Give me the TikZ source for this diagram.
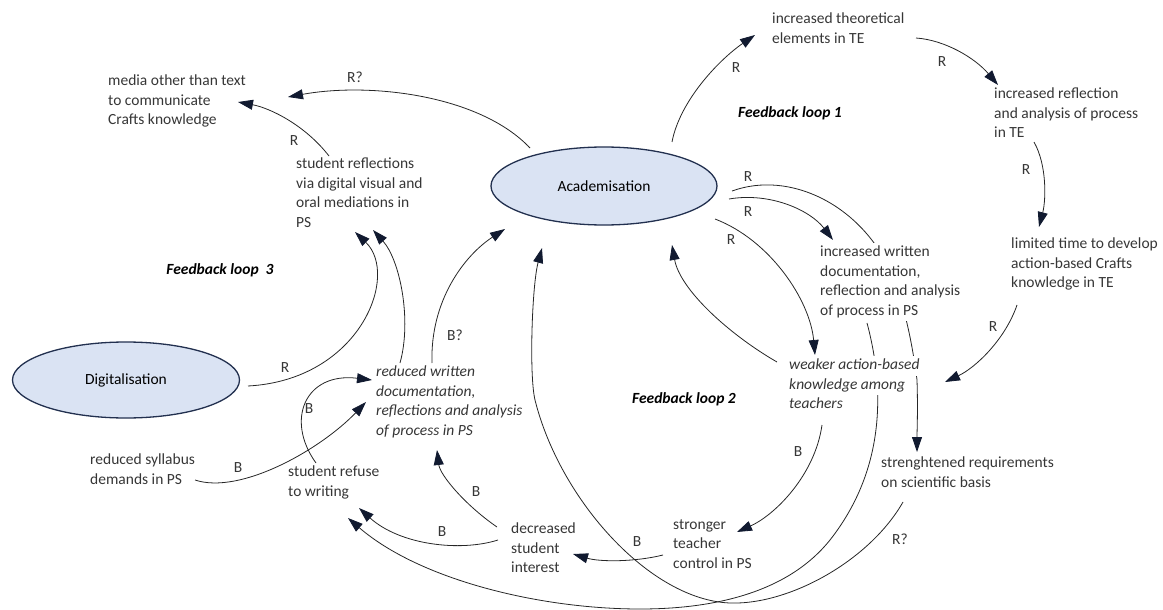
\documentclass[tikz,border=0pt]{standalone}
\usepackage{fontspec}
\setmainfont{Carlito}
\usetikzlibrary{arrows.meta,shapes.geometric,backgrounds}

\definecolor{ovalfill}{HTML}{DAE3F3}
\definecolor{ovaldraw}{HTML}{22304F}
\definecolor{tipc}{HTML}{111A30}
\definecolor{txt}{HTML}{363636}

\setlength{\fboxsep}{0pt}
\newcommand{\fs}{\fontsize{15.5}{19.5}\selectfont}
% white strip behind one line of text, so links can pass under it
\newcommand{\wl}[1]{\colorbox{white}{\strut #1}}

\begin{document}
\begin{tikzpicture}[
        x=1pt, y=-1pt,
        every node/.style={font=\fs, text=txt},
        oval/.style={ellipse, draw=ovaldraw, fill=ovalfill, line width=1.3pt, inner sep=0pt, text=black},
        factor/.style={anchor=north west, align=left, inner sep=1pt, execute at begin node=\strut},
        italic/.style={font=\fs\itshape},
        loop/.style={font=\fs\bfseries\itshape, text=black},
        sign/.style={inner sep=0pt},
        link/.style={draw=black!85, line width=0.8pt, -{Triangle[length=15pt,width=10pt,color=tipc]}},
    ]
    \useasboundingbox (0,0) rectangle (1163,610);

    % drivers
    \node[oval, minimum width=226, minimum height=78] (acad) at (604,186) {Academisation};
    \node[oval, minimum width=227, minimum height=76] (digi) at (126,380) {Digitalisation};

    % factors
    \node[factor] (media) at (107,74) {media other than text\\to communicate\\Crafts knowledge};
    \node[factor] (studrefl) at (295,157) {student reflections\\via digital visual and\\oral mediations in\\PS};
    \node[factor] (theo) at (771,12) {increased theoretical\\elements in TE};
    \node[factor] (reflte) at (993,87) {increased reflection\\and analysis of process\\in TE};
    \node[factor] (limited) at (1010,237) {limited time to develop\\action-based Crafts\\knowledge in TE};
    \node[factor] (writps) at (819,242) {\wl{increased written}\\\wl{documentation,}\\\wl{reflection and analysis}\\\wl{of process in PS}};
    \node[factor, italic] (weaker) at (788,355) {\wl{weaker action-based}\\\wl{knowledge among}\\\wl{teachers}};
    \node[factor] (streng) at (880,456) {strenghtened requirements\\on scientific basis};
    \node[factor] (stronger) at (672,518) {stronger\\teacher\\control in PS};
    \node[factor] (decr) at (510,522) {decreased\\student\\interest};
    \node[factor] (refuse) at (287,465) {student refuse\\to writing};
    \node[factor] (syllabus) at (89,453) {reduced syllabus\\demands in PS};
    \node[factor, italic] (reduced) at (375,365) {reduced written\\documentation,\\reflections and analysis\\of process in PS};

    \node[loop] (loop1) at (790,113) {Feedback loop 1};
    \node[loop] (loop2) at (684,399) {Feedback loop 2};
    \node[loop] (loop3) at (220,270) {Feedback loop\ \ 3};

    % links that run under the text
    \begin{pgfonlayer}{background}
    \draw[link] ([shift={(128,5)}]acad.center) .. controls (790,170) and (860,205) .. (890,270)
        .. controls (903,300) and (912,340) .. (917,380)
        .. controls (918,410) and (917,430) .. ([shift={(37,-4)}]streng.north west);
    \draw[link] ([shift={(48,81)}]writps.north west) .. controls (885,390) and (885,470) .. (830,540)
        .. controls (790,590) and (720,609) .. (640,609)
        .. controls (540,609) and (420,580) .. ([shift={(61,53)}]refuse.north west);
    \end{pgfonlayer}

    % feedback loop 1
    \draw[link] ([shift={(68,-44)}]acad.center) .. controls (680,100) and (720,59) .. ([shift={(-16,23)}]theo.north west);
    \draw[link] ([shift={(145,26)}]theo.north west) .. controls (945,40) and (975,58) .. ([shift={(5,-2)}]reflte.north west);
    \draw[link] ([shift={(41,55)}]reflte.north west) .. controls (1047,165) and (1046,200) .. ([shift={(29,-10)}]limited.north west);
    \draw[link] ([shift={(7,68)}]limited.north west) .. controls (1005,340) and (975,368) .. ([shift={(157,27)}]weaker.north west);

    % feedback loop 2
    \draw[link] ([shift={(125,13)}]acad.center) .. controls (770,192) and (810,210) .. ([shift={(14,-2)}]writps.north west);
    \draw[link] ([shift={(111,33)}]acad.center) .. controls (770,240) and (810,300) .. ([shift={(27,0)}]weaker.north west);
    \draw[link] ([shift={(-11,7)}]weaker.north west) .. controls (730,335) and (680,290) .. ([shift={(68,59)}]acad.center);
    \draw[link] ([shift={(34,70)}]weaker.north west) .. controls (815,475) and (775,515) .. ([shift={(65,14)}]stronger.north west);
    \draw[link] ([shift={(-9,37)}]stronger.north west) .. controls (635,562) and (600,562) .. ([shift={(63,32)}]decr.north west);
    \draw[link] ([shift={(-13,5)}]decr.north west) .. controls (465,505) and (440,475) .. ([shift={(62,85)}]reduced.north west);
    \draw[link] ([shift={(-12,18)}]decr.north west) .. controls (460,552) and (400,545) .. ([shift={(72,43)}]refuse.north west);
    \draw[link] ([shift={(23,46)}]streng.north west) .. controls (870,560) and (790,605) .. (730,603)
        .. controls (650,600) and (560,500) .. (535,400)
        .. controls (529,375) and (532,285) .. ([shift={(-62,62)}]acad.center);

    % feedback loop 3
    \draw[link] ([shift={(-74,-38)}]acad.center) .. controls (480,95) and (370,82) .. ([shift={(181,23)}]media.north west);
    \draw[link] ([shift={(34,-1)}]studrefl.north west) .. controls (305,125) and (270,108) .. ([shift={(131,28)}]media.north west);
    \draw[link] ([shift={(57,-2)}]reduced.north west) .. controls (430,300) and (465,255) .. ([shift={(-99,43)}]acad.center);
    \draw[link] ([shift={(122,6)}]digi.center) .. controls (360,380) and (400,275) .. ([shift={(60,75)}]studrefl.north west);
    \draw[link] ([shift={(25,-2)}]reduced.north west) .. controls (412,320) and (400,260) .. ([shift={(78,73)}]studrefl.north west);
    \draw[link] ([shift={(29,-2)}]refuse.north west) .. controls (285,420) and (305,372) .. ([shift={(-3,15)}]reduced.north west);
    \draw[link] ([shift={(106,27)}]syllabus.north west) .. controls (240,495) and (320,450) .. ([shift={(-9,37)}]reduced.north west);

    % polarity signs
    \node[sign] (s1) at (355,77) {R?};
    \node[sign] (s2) at (294,141) {R};
    \node[sign] (s3) at (736,68) {R};
    \node[sign] (s4) at (942,62) {R};
    \node[sign] (s5) at (1026,170) {R};
    \node[sign] (s6) at (993,327) {R};
    \node[sign] (s7) at (748,177) {R};
    \node[sign] (s8) at (748,212) {R};
    \node[sign] (s9) at (731,240) {R};
    \node[sign] (s10) at (798,452) {B};
    \node[sign] (s11) at (637,542) {B};
    \node[sign] (s12) at (476,492) {B};
    \node[sign] (s13) at (442,532) {B};
    \node[sign] (s14) at (455,335) {B?};
    \node[sign] (s15) at (285,368) {R};
    \node[sign] (s16) at (309,409) {B};
    \node[sign] (s17) at (238,468) {B};
    \node[sign] (s18) at (900,539) {R?};
\end{tikzpicture}
\end{document}
